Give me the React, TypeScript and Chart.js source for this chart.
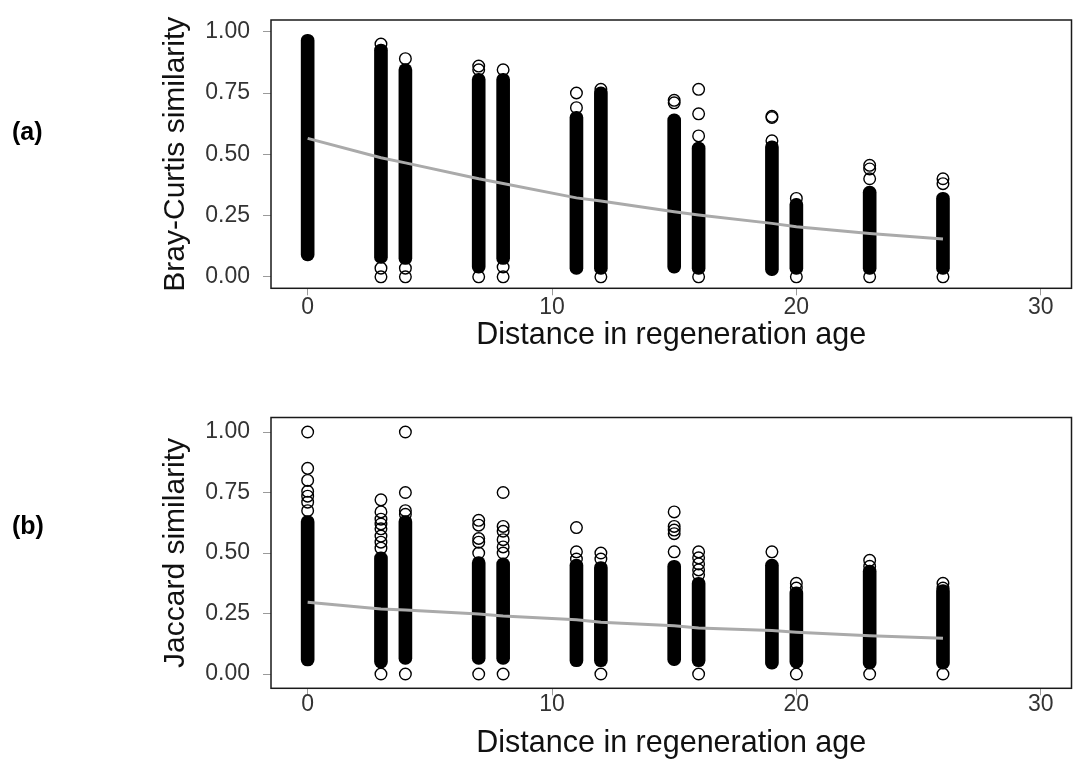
import React, { useEffect, useRef } from "react";
import { Chart, registerables } from "chart.js";

Chart.register(...registerables);

// ---- data ----
const xCats = [0, 3, 4, 7, 8, 11, 12, 15, 16, 19, 20, 23, 26];
const xTickValues = [0, 10, 20, 30];
const yTickValues = [0, 0.25, 0.5, 0.75, 1];

// Bray-Curtis: dense column extents, separate circles, fitted curve
const bcLow = [0.065, 0.055, 0.05, 0.015, 0.05, 0.01, 0.01, 0.015, 0.01, 0.005, 0.01, 0.01, 0.01];
const bcHigh = [0.99, 0.95, 0.87, 0.83, 0.83, 0.675, 0.775, 0.665, 0.55, 0.555, 0.32, 0.37, 0.345];
const bcCircles = [
  [],
  [0.95, 0.035, 0.0],
  [0.89, 0.035, 0.0],
  [0.86, 0.845, 0.0],
  [0.845, 0.04, 0.0],
  [0.75, 0.69],
  [0.765, 0.0],
  [0.72, 0.71],
  [0.765, 0.665, 0.575, 0.0],
  [0.655, 0.65, 0.555],
  [0.32, 0.0],
  [0.455, 0.44, 0.4, 0.0],
  [0.4, 0.38, 0.0],
];
const bcFit = [0.565, 0.486, 0.465, 0.4, 0.381, 0.322, 0.309, 0.265, 0.252, 0.218, 0.204, 0.177, 0.154];

// Jaccard
const jacLow = [0.033, 0.025, 0.04, 0.04, 0.04, 0.03, 0.03, 0.035, 0.03, 0.02, 0.025, 0.02, 0.02];
const jacHigh = [0.655, 0.505, 0.655, 0.485, 0.48, 0.475, 0.465, 0.47, 0.4, 0.475, 0.36, 0.45, 0.37];
const jacCircles = [
  [1.0, 0.85, 0.8, 0.755, 0.735, 0.71, 0.675],
  [0.72, 0.67, 0.64, 0.62, 0.6, 0.57, 0.545, 0.52, 0.0],
  [1.0, 0.75, 0.675, 0.66, 0.0],
  [0.635, 0.615, 0.56, 0.545, 0.5, 0.0],
  [0.75, 0.61, 0.59, 0.555, 0.525, 0.5, 0.0],
  [0.605, 0.505, 0.475],
  [0.5, 0.475, 0.0],
  [0.67, 0.61, 0.595, 0.58, 0.505],
  [0.505, 0.48, 0.455, 0.43, 0.41, 0.0],
  [0.505],
  [0.375, 0.355, 0.0],
  [0.47, 0.445, 0.0],
  [0.375, 0.355, 0.0],
];
const jacFit = [0.297, 0.269, 0.265, 0.248, 0.24, 0.224, 0.214, 0.199, 0.19, 0.18, 0.173, 0.158, 0.148];

const FONT = "'Liberation Sans', Arial, Helvetica, sans-serif";

const boxPlugin = {
  id: "panelBox",
  afterDraw(chart: any) {
    const { ctx, chartArea: a } = chart;
    ctx.save();
    ctx.strokeStyle = "#1a1a1a";
    ctx.lineWidth = 1.5;
    ctx.strokeRect(a.left, a.top, a.right - a.left, a.bottom - a.top);
    ctx.restore();
  },
};

type PanelCfg = {
  low: number[];
  high: number[];
  circles: number[][];
  fit: number[];
  yTitle: string;
  yMin: number;
  yMax: number;
  padTop: number;
  xAxisH: number;
  xTitlePadBottom: number;
  xTickPad: number;
};

function makeConfig(p: PanelCfg): any {
  const bars = xCats.map((x, i) => ({ x, y: [p.low[i], p.high[i]] }));
  const pts = xCats.flatMap((x, i) => p.circles[i].map((y) => ({ x, y })));
  const fit = xCats.map((x, i) => ({ x, y: p.fit[i] }));
  return {
    type: "scatter",
    data: {
      datasets: [
        {
          type: "line",
          data: fit,
          borderColor: "#aaaaaa",
          borderWidth: 3,
          pointRadius: 0,
          fill: false,
          tension: 0,
          order: 1,
        },
        {
          type: "scatter",
          data: pts,
          pointStyle: "circle",
          pointRadius: 5.8,
          pointBorderWidth: 1.4,
          pointBorderColor: "#000",
          borderColor: "#000",
          pointBackgroundColor: "rgba(0,0,0,0)",
          backgroundColor: "rgba(0,0,0,0)",
          order: 2,
        },
        {
          type: "bar",
          data: bars,
          backgroundColor: "#000",
          borderWidth: 0,
          barThickness: 13,
          borderRadius: 6.5,
          borderSkipped: false,
          order: 3,
        },
      ],
    },
    options: {
      animation: false,
      responsive: false,
      devicePixelRatio: 1,
      layout: { autoPadding: false, padding: { top: p.padTop, right: 1.5, left: 0, bottom: 0 } },
      plugins: { legend: { display: false }, tooltip: { enabled: false } },
      scales: {
        x: {
          type: "linear",
          min: -1.5,
          max: 31.26,
          offset: false,
          afterFit: (s: any) => {
            s.height = p.xAxisH;
            s.paddingLeft = 0;
            s.paddingRight = 0;
          },
          afterBuildTicks: (s: any) => {
            s.ticks = xTickValues.map((v) => ({ value: v }));
          },
          grid: {
            display: true,
            offset: false,
            drawOnChartArea: false,
            drawTicks: true,
            tickLength: 7,
            tickColor: "#9a9a9a",
            tickWidth: 1,
          },
          border: { display: false },
          ticks: {
            font: { family: FONT, size: 23, lineHeight: 1 },
            color: "#333",
            padding: p.xTickPad,
            maxRotation: 0,
            callback: (v: any) => String(v),
          },
          title: {
            display: true,
            text: "Distance in regeneration age",
            font: { family: FONT, size: 30.5 },
            color: "#111",
            padding: { top: 0, bottom: p.xTitlePadBottom },
          },
        },
        y: {
          type: "linear",
          min: p.yMin,
          max: p.yMax,
          afterFit: (s: any) => {
            s.width = 271;
            s.paddingTop = 0;
            s.paddingBottom = 0;
          },
          afterBuildTicks: (s: any) => {
            s.ticks = yTickValues.map((v) => ({ value: v }));
          },
          grid: {
            display: true,
            drawOnChartArea: false,
            drawTicks: true,
            tickLength: 8,
            tickColor: "#9a9a9a",
            tickWidth: 1,
          },
          border: { display: false },
          ticks: {
            font: { family: FONT, size: 23 },
            color: "#333",
            padding: 13,
            callback: (v: any) => Number(v).toFixed(2),
          },
          title: {
            display: true,
            text: p.yTitle,
            font: { family: FONT, size: 30 },
            color: "#111",
            padding: { top: 158, bottom: 0 },
          },
        },
      },
    },
    plugins: [boxPlugin],
  };
}

const panelA: PanelCfg = {
  low: bcLow,
  high: bcHigh,
  circles: bcCircles,
  fit: bcFit,
  yTitle: "Bray-Curtis similarity",
  yMin: -0.047,
  yMax: 1.048,
  padTop: 20,
  xAxisH: 101.7,
  xTitlePadBottom: 36,
  xTickPad: 1,
};

const panelB: PanelCfg = {
  low: jacLow,
  high: jacHigh,
  circles: jacCircles,
  fit: jacFit,
  yTitle: "Jaccard similarity",
  yMin: -0.059,
  yMax: 1.06,
  padTop: 27.5,
  xAxisH: 91.7,
  xTitlePadBottom: 18,
  xTickPad: -2,
};

function Panel({ cfg, top }: { cfg: PanelCfg; top: number }) {
  const ref = useRef<HTMLCanvasElement>(null);
  useEffect(() => {
    const chart = new Chart(ref.current as HTMLCanvasElement, makeConfig(cfg));
    return () => chart.destroy();
  }, [cfg]);
  return (
    <canvas
      ref={ref}
      width={1073}
      height={390}
      style={{ position: "absolute", left: 0, top, width: 1073, height: 390 }}
    />
  );
}

const labelStyle: React.CSSProperties = {
  position: "absolute",
  left: 12,
  fontFamily: FONT,
  fontWeight: "bold",
  fontSize: 25,
  lineHeight: "25px",
  color: "#000",
};

export default function App() {
  return (
    <div
      style={{
        position: "absolute",
        left: 0,
        top: 0,
        width: 1073,
        height: 780,
        background: "#fff",
        overflow: "hidden",
      }}
    >
      <Panel cfg={panelA} top={0} />
      <Panel cfg={panelB} top={390} />
      <div style={{ ...labelStyle, top: 119 }}>(a)</div>
      <div style={{ ...labelStyle, top: 513 }}>(b)</div>
    </div>
  );
}
